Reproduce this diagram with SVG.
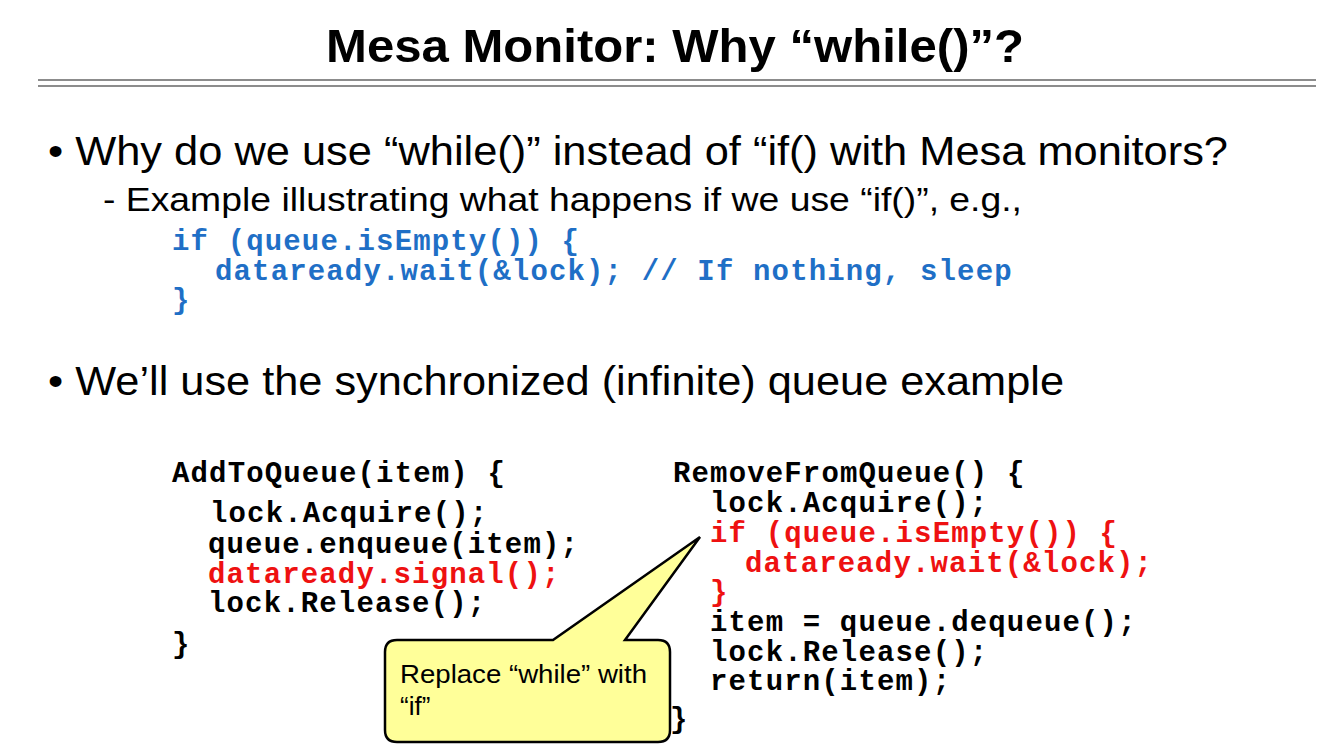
<svg xmlns="http://www.w3.org/2000/svg" width="1320" height="752" viewBox="0 0 1320 752">
<style>
.t{font-family:"Liberation Sans",Arial,sans-serif;fill:#000}
.c{font-family:"Liberation Mono","Courier New",monospace;font-weight:bold;font-size:29px;letter-spacing:1.15px;fill:#000}
.b{fill:#1f6fc6}.r{fill:#ee1111}
</style>
<rect width="1320" height="752" fill="#fff"/>
<text class="t" x="675" y="62" font-size="47" font-weight="bold" text-anchor="middle" textLength="698" lengthAdjust="spacingAndGlyphs">Mesa Monitor: Why “while()”?</text>
<line x1="38" y1="80" x2="1316" y2="80" stroke="#666" stroke-width="1.5"/>
<line x1="38" y1="86" x2="1316" y2="86" stroke="#666" stroke-width="1.5"/>
<text class="t" x="48" y="165" font-size="41" textLength="1180" lengthAdjust="spacingAndGlyphs">• Why do we use “while()” instead of “if() with Mesa monitors?</text>
<text class="t" x="103" y="211" font-size="34" textLength="919" lengthAdjust="spacingAndGlyphs">-  Example illustrating what happens if we use “if()”, e.g.,</text>
<text class="c b" x="172" y="250">if (queue.isEmpty()) {</text>
<text class="c b" x="215" y="280">dataready.wait(&amp;lock); // If nothing, sleep</text>
<text class="c b" x="172" y="309">}</text>
<text class="t" x="48" y="395" font-size="41" textLength="1016" lengthAdjust="spacingAndGlyphs">• We’ll use the synchronized (infinite) queue example</text>
<g id="left">
<text class="c" x="172" y="482">AddToQueue(item) {</text>
<text class="c" x="210" y="522">lock.Acquire();</text>
<text class="c" x="208" y="553">queue.enqueue(item);</text>
<text class="c r" x="208" y="583">dataready.signal();</text>
<text class="c" x="208" y="612">lock.Release();</text>
<text class="c" x="172" y="653">}</text>
</g>
<g id="right">
<text class="c" x="673" y="482">RemoveFromQueue() {</text>
<text class="c" x="710" y="512">lock.Acquire();</text>
<text class="c r" x="710" y="542">if (queue.isEmpty()) {</text>
<text class="c r" x="745" y="572">dataready.wait(&amp;lock);</text>
<text class="c r" x="710" y="601">}</text>
<text class="c" x="710" y="631">item = queue.dequeue();</text>
<text class="c" x="710" y="661">lock.Release();</text>
<text class="c" x="710" y="690">return(item);</text>
</g>
<g id="callout">
<path d="M397,640 H553 L700,537 L625,640 H658 Q670,640 670,652 V730 Q670,742 658,742 H397 Q385,742 385,730 V652 Q385,640 397,640 Z" fill="#ffff99" stroke="#000" stroke-width="2.5"/>
<text class="t" x="400" y="683" font-size="26" textLength="247" lengthAdjust="spacingAndGlyphs">Replace “while” with</text>
<text class="t" x="400" y="715" font-size="26">“if”</text>
</g>
<text class="c" x="670" y="728">}</text>
</svg>
